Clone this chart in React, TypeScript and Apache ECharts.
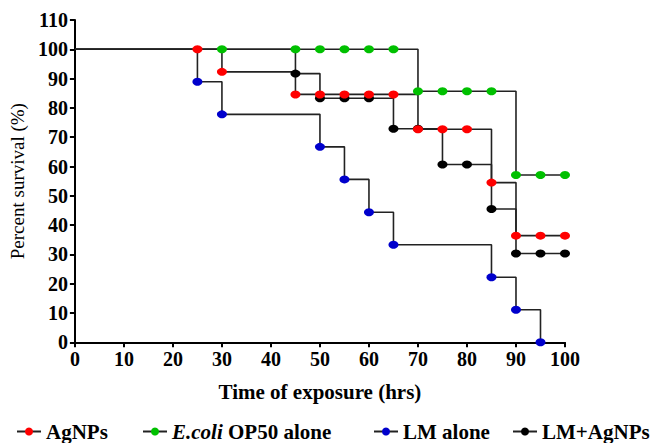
import React, { useEffect, useRef } from "react";
import * as echarts from "echarts";

const xTicks = [0, 10, 20, 30, 40, 50, 60, 70, 80, 90, 100];
const yTicks = [0, 10, 20, 30, 40, 50, 60, 70, 80, 90, 100, 110];

const seriesNames = ["AgNPs", "E.coli OP50 alone", "LM alone", "LM+AgNPs"];

const agnpsTimes = [0, 25, 30, 45, 50, 55, 60, 65, 70, 75, 80, 85, 90, 95, 100];
const agnpsSurvival = [100, 100, 92.3, 84.6, 84.6, 84.6, 84.6, 84.6, 72.7, 72.7, 72.7, 54.5, 36.4, 36.4, 36.4];

const ecoliTimes = [0, 30, 45, 50, 55, 60, 65, 70, 75, 80, 85, 90, 95, 100];
const ecoliSurvival = [100, 100, 100, 100, 100, 100, 100, 85.7, 85.7, 85.7, 85.7, 57.1, 57.1, 57.1];

const lmTimes = [0, 25, 30, 50, 55, 60, 65, 85, 90, 95];
const lmSurvival = [100, 88.9, 77.8, 66.7, 55.6, 44.4, 33.3, 22.2, 11.1, 0];

const lmAgTimes = [0, 45, 50, 55, 60, 65, 70, 75, 80, 85, 90, 95, 100];
const lmAgSurvival = [100, 91.7, 83.3, 83.3, 83.3, 72.9, 72.9, 60.7, 60.7, 45.5, 30.3, 30.3, 30.3];

const markerColors = ["#ff0000", "#00c000", "#0000cc", "#000000"];

const FONT = "Liberation Serif";

function buildData(times: number[], vals: number[]) {
  return times.map((t, i) =>
    i === 0 ? { value: [t, vals[i]], symbol: "none" } : { value: [t, vals[i]] }
  );
}

export default function App() {
  const ref = useRef<HTMLDivElement>(null);
  useEffect(() => {
    if (!ref.current) return;
    const chart = echarts.init(ref.current, undefined, { renderer: "svg" });
    const mk = (name: string, times: number[], vals: number[], color: string) => ({
      name,
      type: "line",
      step: "end",
      data: buildData(times, vals),
      symbol: "circle",
      symbolSize: [10, 8],
      itemStyle: { color },
      lineStyle: { color: "#222", width: 1.6 },
      emphasis: { disabled: true },
    });
    const legendBase = {
      top: 416,
      itemWidth: 24,
      itemHeight: 10,
      textStyle: {
        fontFamily: FONT,
        fontWeight: "bold",
        fontSize: 21,
        color: "#000",
        rich: {
          i: { fontFamily: FONT, fontWeight: "bold", fontStyle: "italic", fontSize: 21, color: "#000" },
          b: { fontFamily: FONT, fontWeight: "bold", fontSize: 21, color: "#000" },
        },
      },
      formatter: (n: string) =>
        n.startsWith("E.coli") ? "{i|E.coli}{b| OP50 alone}" : n,
    };
    chart.setOption({
      animation: false,
      grid: { left: 72.5, right: 89, top: 20, bottom: 100.7, containLabel: false },
      legend: [
        { ...legendBase, left: 11, data: [seriesNames[0]] },
        { ...legendBase, left: 137, data: [seriesNames[1]] },
        { ...legendBase, left: 368, data: [seriesNames[2]] },
        { ...legendBase, left: 507, data: [seriesNames[3]] },
      ],
      xAxis: {
        type: "value",
        min: xTicks[0],
        max: xTicks[xTicks.length - 1],
        interval: 10,
        name: "Time of exposure (hrs)",
        nameLocation: "middle",
        nameGap: 39,
        nameTextStyle: { fontFamily: FONT, fontWeight: "bold", fontSize: 21, color: "#000" },
        axisLine: { lineStyle: { color: "#000", width: 2 } },
        axisTick: { show: true, length: 5, lineStyle: { color: "#000", width: 2 } },
        axisLabel: { fontFamily: FONT, fontWeight: "bold", fontSize: 20, color: "#000", margin: 7 },
        splitLine: { show: false },
      },
      yAxis: {
        type: "value",
        min: yTicks[0],
        max: yTicks[yTicks.length - 1],
        interval: 10,
        name: "Percent survival (%)",
        nameLocation: "middle",
        nameGap: 34,
        nameTextStyle: { fontFamily: FONT, fontWeight: "normal", fontSize: 19, color: "#000" },
        axisLine: { show: true, lineStyle: { color: "#000", width: 2 } },
        axisTick: { show: true, length: 5, lineStyle: { color: "#000", width: 2 } },
        axisLabel: { fontFamily: FONT, fontWeight: "bold", fontSize: 20, color: "#000", margin: 7 },
        splitLine: { show: false },
      },
      series: [
        mk(seriesNames[3], lmAgTimes, lmAgSurvival, markerColors[3]),
        mk(seriesNames[2], lmTimes, lmSurvival, markerColors[2]),
        mk(seriesNames[1], ecoliTimes, ecoliSurvival, markerColors[1]),
        mk(seriesNames[0], agnpsTimes, agnpsSurvival, markerColors[0]),
      ],
    });
    return () => chart.dispose();
  }, []);
  return <div ref={ref} style={{ width: 654, height: 443, position: "absolute", left: 0, top: 0 }} />;
}
